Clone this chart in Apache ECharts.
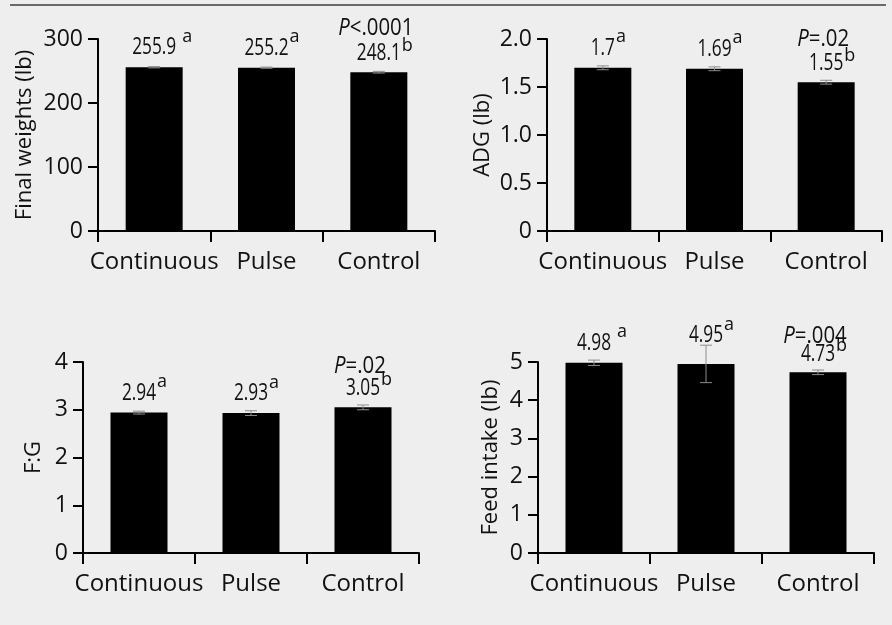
<!DOCTYPE html>
<html><head><meta charset="utf-8">
<script src="https://cdn.jsdelivr.net/npm/echarts@6/dist/echarts.min.js"></script>
<style>html,body{margin:0;padding:0;background:#eeeeee}#c{width:892px;height:625px}</style>
</head><body><div id="c"></div>
<script>
const categories = ['Continuous', 'Pulse', 'Control'];

const finalWeights = [255.9, 255.2, 248.1];
const finalWeightsErr = [1.0, 0.9, 1.3];
const finalWeightsText = ['255.9', '255.2', '248.1'];
const finalWeightsLetters = ['a', 'a', 'b'];

const adg = [1.70, 1.69, 1.55];
const adgErr = [0.02, 0.02, 0.02];
const adgText = ['1.7', '1.69', '1.55'];
const adgLetters = ['a', 'a', 'b'];

const feedToGain = [2.94, 2.93, 3.05];
const feedToGainErr = [0.03, 0.05, 0.05];
const feedToGainText = ['2.94', '2.93', '3.05'];
const feedToGainLetters = ['a', 'a', 'b'];

const feedIntake = [4.98, 4.95, 4.73];
const feedIntakeErr = [0.07, 0.49, 0.06];
const feedIntakeText = ['4.98', '4.95', '4.73'];
const feedIntakeLetters = ['a', 'a', 'b'];

const pValues = ['<.0001', '=.02', '=.02', '=.004'];
const yNames = ['Final weights (lb)', 'ADG (lb)', 'F:G', 'Feed intake (lb)'];
const yMax = [300, 2, 4, 5];
const yInterval = [100, 0.5, 1, 1];

const panelValues = [finalWeights, adg, feedToGain, feedIntake];
const panelErrs = [finalWeightsErr, adgErr, feedToGainErr, feedIntakeErr];
const panelTexts = [finalWeightsText, adgText, feedToGainText, feedIntakeText];
const panelLetters = [finalWeightsLetters, adgLetters, feedToGainLetters, feedIntakeLetters];

// ---- layout / styling (not data) ----
const grids = [
  {left: 98, top: 39, width: 337, height: 192},
  {left: 547, top: 39, width: 335, height: 192},
  {left: 83, top: 362, width: 336, height: 191},
  {left: 538, top: 362, width: 336, height: 191}
];
const nameGaps = [62, 53, 38, 36];
const labelLift = [[11, 11, 10], [11, 11, 10], [11, 11, 11], [11, 20, 10]];
const supGap = [[6, 1, 1], [1, 1, 1], [1, 1, 1], [6, 1, 1]];
const pLift = [25, 24, 22, 18];

const REG = '"Open Sans", "Noto Sans", sans-serif';
const NUM_FS = 24, NUM_SX = 0.72, SUP_FS = 18, P_FS = 24, P_SX = 0.85;
const INK = '#111';

const mctx = document.createElement('canvas').getContext('2d');
function measure(t, font) { mctx.font = font; return mctx.measureText(t).width; }

function errRender(params, api) {
  const i = api.value(0), v = api.value(1), e = api.value(2);
  const t = api.coord([i, v + e]), b = api.coord([i, v - e]);
  const x = t[0], w = 6;
  const st = {stroke: '#8c8c8c', lineWidth: 1};
  return {type: 'group', children: [
    {type: 'line', shape: {x1: x, y1: t[1], x2: x, y2: b[1]}, style: st},
    {type: 'line', shape: {x1: x - w, y1: t[1], x2: x + w, y2: t[1]}, style: st},
    {type: 'line', shape: {x1: x - w, y1: b[1], x2: x + w, y2: b[1]}, style: st}
  ]};
}

function labelRender(k) {
  return function (params, api) {
    const i = api.value(0), v = api.value(1);
    const pt = api.coord([i, v]);
    const x = pt[0];
    const base = pt[1] - labelLift[k][i];
    const txt = panelTexts[k][i];
    const numFont = NUM_FS + 'px ' + REG;
    const w = measure(txt, numFont) * NUM_SX;
    const letter = panelLetters[k][i];
    const children = [
      {type: 'text', x: x, y: base - NUM_FS * 0.36, scaleX: NUM_SX,
        style: {text: txt, fontFamily: REG, fontSize: NUM_FS, fill: INK, align: 'center', verticalAlign: 'middle'}},
      {type: 'text', x: x + w / 2 + supGap[k][i], y: base - (letter === 'b' ? 10 : 13) - SUP_FS * 0.36,
        style: {text: letter, fontFamily: REG, fontSize: SUP_FS, fill: INK, align: 'left', verticalAlign: 'middle'}}
    ];
    if (i === 2) {
      const pb = base - pLift[k];
      children.push({type: 'text', x: x - 3, y: pb - P_FS * 0.36, scaleX: P_SX,
        style: {text: '{pi|P}{p|' + pValues[k] + '}', align: 'center', verticalAlign: 'middle',
          rich: {
            pi: {fontFamily: REG, fontStyle: 'italic', fontSize: P_FS, fill: INK},
            p: {fontFamily: REG, fontSize: P_FS, fill: INK}
          }}});
    }
    return {type: 'group', children: children};
  };
}

const option = {
  backgroundColor: '#eeeeee',
  animation: false,
  graphic: [{type: 'line', shape: {x1: 10, y1: 5, x2: 886, y2: 5}, style: {stroke: '#6a6a6a', lineWidth: 2}}],
  grid: grids.map(g => Object.assign({containLabel: false}, g)),
  xAxis: grids.map((g, k) => ({
    type: 'category', gridIndex: k, data: categories, boundaryGap: true,
    axisLine: {lineStyle: {color: '#000', width: 2}},
    axisTick: {show: true, length: 11, lineStyle: {color: '#000', width: 2}},
    axisLabel: {color: INK, fontFamily: REG, fontSize: 24, margin: 19, interval: 0}
  })),
  yAxis: grids.map((g, k) => ({
    type: 'value', gridIndex: k, min: 0, max: yMax[k], interval: yInterval[k],
    name: yNames[k], nameLocation: 'middle', nameGap: nameGaps[k], nameRotate: 90,
    nameTextStyle: {color: INK, fontFamily: REG, fontSize: 22},
    axisLine: {show: true, lineStyle: {color: '#000', width: 2}},
    axisTick: {show: true, length: 10, lineStyle: {color: '#000', width: 2}},
    splitLine: {show: false},
    axisLabel: {color: INK, fontFamily: REG, fontSize: 23, margin: 15,
      formatter: v => (k === 1 ? (v === 0 ? '0' : v.toFixed(1)) : String(v))}
  })),
  series: []
};

for (let k = 0; k < 4; k++) {
  const vals = panelValues[k];
  option.series.push({
    type: 'bar', xAxisIndex: k, yAxisIndex: k, barWidth: 57,
    itemStyle: {color: '#000'},
    data: vals, z: 2
  });
  option.series.push({
    type: 'custom', xAxisIndex: k, yAxisIndex: k,
    renderItem: errRender, encode: {x: 0, y: 1},
    data: vals.map((v, i) => [i, v, panelErrs[k][i]]),
    z: 5, silent: true
  });
  option.series.push({
    type: 'custom', xAxisIndex: k, yAxisIndex: k,
    renderItem: labelRender(k), encode: {x: 0, y: 1},
    data: vals.map((v, i) => [i, v]),
    z: 6, silent: true, clip: false
  });
}

echarts.init(document.getElementById('c'), null, {renderer: 'canvas'}).setOption(option);
</script>
</body></html>
